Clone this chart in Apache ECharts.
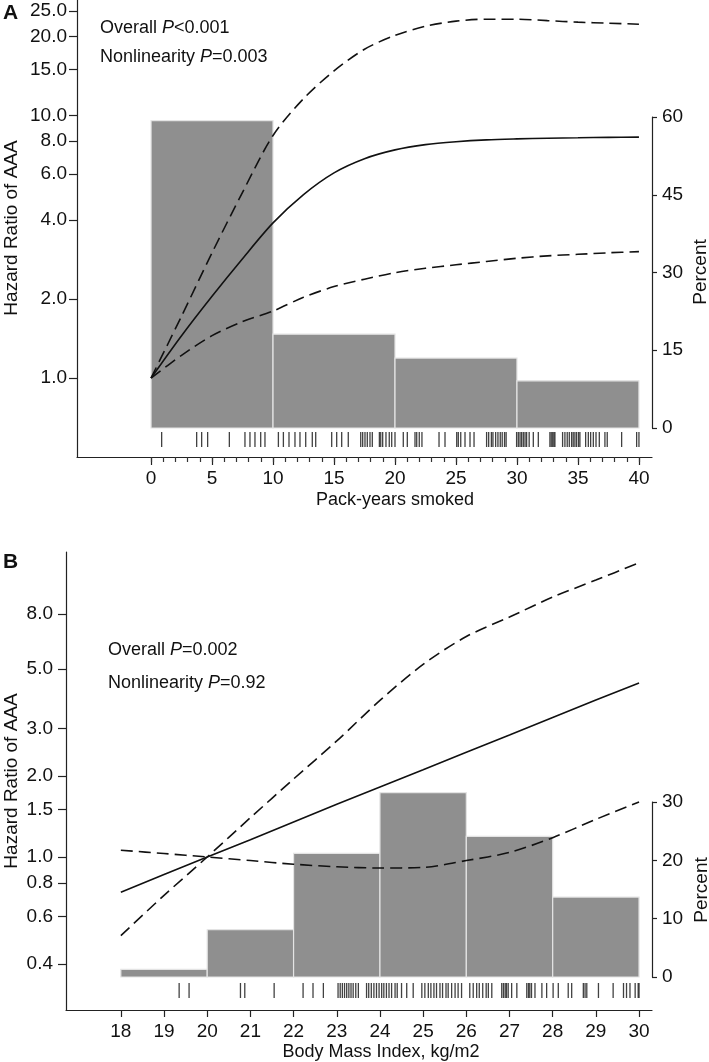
<!DOCTYPE html>
<html><head><meta charset="utf-8">
<script src="https://cdn.jsdelivr.net/npm/echarts@6/dist/echarts.min.js"></script>
<style>html,body{margin:0;padding:0;background:#fff}#c{width:709px;height:1062px}</style>
</head><body><div id="c"></div>
<script>
// ---------- Panel A: pack-years smoked ----------
const packYears      = [0,2.5,5,7.5,10,12.5,15,17.5,20,22.5,25,27.5,30,32.5,35,37.5,40];
const hrPack         = [1.0,1.45,2.05,2.85,3.9,5.0,6.05,6.85,7.4,7.75,7.95,8.08,8.15,8.2,8.23,8.26,8.28];
const hrPackLower    = [1.0,1.22,1.45,1.64,1.80,2.03,2.23,2.38,2.52,2.62,2.70,2.78,2.86,2.92,2.96,3.00,3.03];
const hrPackUpper    = [1.0,1.72,3.0,5.1,8.4,11.6,14.8,17.9,20.2,21.9,22.9,23.3,23.3,23.0,22.7,22.5,22.3];
const histPackStart  = [0,10,20,30];
const histPackPct    = [59.3,18.1,13.5,9.1];
const histPackWidth  = 10;
const rugPack = [0.87,3.74,4.15,4.64,6.42,7.70,8.11,8.52,8.99,9.34,10.44,10.85,11.31,11.80,12.21,12.68,13.22,13.50,14.81,15.22,15.63,16.17,17.19,17.35,17.54,17.73,17.95,18.14,18.72,18.83,18.99,19.26,19.53,19.73,20.00,20.68,21.01,21.64,21.78,21.99,22.21,23.61,24.10,25.06,25.19,25.39,25.74,26.15,26.48,27.51,27.68,27.90,28.03,28.25,28.44,28.63,28.79,28.98,29.11,29.97,30.11,30.25,30.38,30.52,30.66,30.79,31.0,31.34,31.75,32.70,32.81,32.93,33.03,33.11,33.74,33.93,34.12,34.29,34.48,34.61,34.75,34.89,35.05,35.16,35.63,35.85,36.04,36.26,36.48,36.75,37.21,37.40,38.58,39.81,40.0];
const hrTicksPack    = [1,2,4,6,8,10,15,20,25];
const pctTicksPack   = [0,15,30,45,60];
const xTicksPack     = [0,5,10,15,20,25,30,35,40];
const xMinorPack     = [0,1,2,3,4,5,6,7,8,9,10,11,12,13,14,15,16,17,18,19,20,21,22,23,24,25,26,27,28,29,30,31,32,33,34,35,36,37,38,39,40];

// ---------- Panel B: body mass index ----------
const bmi            = [18,19,20,21,22,23,24,25,26,27,28,29,30];
const hrBmi          = [0.74,0.86,1.0,1.16,1.35,1.57,1.82,2.11,2.45,2.84,3.30,3.83,4.43];
const hrBmiLower     = [1.06,1.03,1.0,0.97,0.94,0.92,0.91,0.915,0.97,1.04,1.18,1.38,1.60];
const hrBmiUpper     = [0.51,0.72,1.0,1.40,1.95,2.70,3.82,5.2,6.6,7.8,9.25,10.7,12.4];
const histBmiStart   = [18,20,22,24,26,28];
const histBmiPct     = [1.3,8.1,21.2,31.6,24.1,13.7];
const histBmiWidth   = 2;
const rugBmi = [19.35,19.58,20.77,20.87,21.55,22.22,22.45,22.69,23.03,23.08,23.13,23.18,23.23,23.28,23.33,23.38,23.44,23.50,23.69,23.74,23.80,23.86,23.92,23.98,24.04,24.09,24.15,24.21,24.27,24.35,24.40,24.50,24.62,24.77,24.97,25.04,25.12,25.18,25.25,25.31,25.39,25.45,25.53,25.58,25.66,25.74,25.81,25.89,26.08,26.16,26.24,26.30,26.38,26.46,26.51,26.59,26.82,26.86,26.90,26.93,26.97,27.05,27.17,27.40,27.44,27.47,27.51,27.59,27.75,27.86,28.01,28.13,28.36,28.44,28.71,28.75,28.79,29.06,29.40,29.64,29.71,29.79,29.91,29.98,30.0];
const hrTicksBmi     = [0.4,0.6,0.8,1,1.5,2,3,5,8];
const pctTicksBmi    = [0,10,20,30];
const xTicksBmi      = [18,19,20,21,22,23,24,25,26,27,28,29,30];

const FONT = 'Liberation Sans, Arial, sans-serif';
const INK = '#111';
const AX = '#222';
const lg = v => Math.log10(v);

function renderHist(params, api) {
  const p0 = api.coord([api.value(0), api.value(2)]);
  const p1 = api.coord([api.value(1), 0]);
  return {
    type: 'rect',
    shape: { x: p0[0], y: p0[1], width: p1[0] - p0[0], height: p1[1] - p0[1] },
    style: { fill: '#8f8f8f', stroke: '#e4e4e4', lineWidth: 1.2 }
  };
}
const labelStyle = { color: INK, fontSize: 19, fontFamily: FONT };
const hidden = (gi, min, max) => ({ gridIndex: gi, type: 'value', min, max, show: false,
  axisLine: { onZero: false } });

function logAxis(gi, min, max, ticks, margin) {
  return {
    gridIndex: gi, type: 'value', position: 'left', min: lg(min), max: lg(max),
    axisLine: { show: true, onZero: false, lineStyle: { color: AX, width: 1.2 } },
    axisTick: { show: true, length: 8, lineStyle: { color: AX, width: 1.2 }, customValues: ticks.map(lg) },
    axisLabel: Object.assign({ margin, customValues: ticks.map(lg),
      formatter: v => Math.pow(10, v).toFixed(1) }, labelStyle),
    splitLine: { show: false }
  };
}
function pctAxis(gi, max, ticks) {
  return {
    gridIndex: gi, type: 'value', position: 'right', min: 0, max,
    axisLine: { show: true, onZero: false, lineStyle: { color: AX, width: 1.2 } },
    axisTick: { show: true, length: 5, lineStyle: { color: AX, width: 1.2 }, customValues: ticks },
    axisLabel: Object.assign({ margin: 10, customValues: ticks }, labelStyle),
    splitLine: { show: false }
  };
}
function lineSeries(xi, yi, xs, ys, dashed, smooth) {
  return {
    type: 'line', xAxisIndex: xi, yAxisIndex: yi, z: 5,
    data: xs.map((x, i) => [x, lg(ys[i])]),
    showSymbol: false, smooth: smooth, silent: true,
    lineStyle: { color: INK, width: 1.6, type: dashed ? [12, 6] : 'solid' }
  };
}
function pText(x, y, label, pv) {
  return {
    type: 'text', x, y,
    style: {
      text: '{n|' + label + ' }{i|P}{n|' + pv + '}',
      verticalAlign: 'middle', align: 'left',
      rich: {
        n: { fontSize: 18, fontFamily: FONT, fill: INK },
        i: { fontSize: 18, fontFamily: FONT, fontStyle: 'italic', fill: INK }
      }
    }
  };
}
function rotText(x, y, t) {
  return { type: 'text', x, y, rotation: Math.PI / 2,
    style: { text: t, fontSize: 19, fontFamily: FONT, fill: INK, align: 'center', verticalAlign: 'middle' } };
}
function plainText(x, y, t, bold, size) {
  return { type: 'text', x, y,
    style: { text: t, fontSize: size || 18, fontFamily: FONT, fontWeight: bold ? 'bold' : 'normal',
      fill: INK, align: bold ? 'left' : 'center', verticalAlign: 'middle' } };
}

const xMinA = -6.07, xMaxA = 41.07;
const xMinB = 16.73, xMaxB = 30.30;

const option = {
  animation: false,
  backgroundColor: '#fff',
  grid: [
    { left: 77, top: 0, width: 575, height: 457, outerBoundsMode: 'none' },
    { left: 77, top: 117, width: 575, height: 311, outerBoundsMode: 'none' },
    { left: 77, top: 432, width: 575, height: 15, outerBoundsMode: 'none' },
    { left: 66, top: 552, width: 586, height: 458, outerBoundsMode: 'none' },
    { left: 66, top: 802, width: 586, height: 175, outerBoundsMode: 'none' },
    { left: 66, top: 983, width: 586, height: 15, outerBoundsMode: 'none' },
    { left: 77, top: 0, width: 575, height: 457, outerBoundsMode: 'none' }
  ],
  xAxis: [
    { gridIndex: 0, type: 'value', position: 'bottom', min: xMinA, max: xMaxA,
      axisLine: { show: true, onZero: false, lineStyle: { color: AX, width: 1.2 } },
      axisTick: { show: true, length: 8, lineStyle: { color: AX, width: 1.2 }, customValues: xTicksPack },
      axisLabel: Object.assign({ margin: 12, customValues: xTicksPack }, labelStyle),
      splitLine: { show: false } },
    { gridIndex: 6, type: 'value', position: 'bottom', min: xMinA, max: xMaxA,
      axisLine: { show: false, onZero: false },
      axisTick: { show: true, length: 5, lineStyle: { color: '#333', width: 1.2 }, customValues: xMinorPack },
      axisLabel: { show: false }, splitLine: { show: false } },
    hidden(1, xMinA, xMaxA),
    hidden(2, xMinA, xMaxA),
    { gridIndex: 3, type: 'value', position: 'bottom', min: xMinB, max: xMaxB,
      axisLine: { show: true, onZero: false, lineStyle: { color: AX, width: 1.2 } },
      axisTick: { show: true, length: 7, lineStyle: { color: AX, width: 1.2 }, customValues: xTicksBmi },
      axisLabel: Object.assign({ margin: 12, customValues: xTicksBmi }, labelStyle),
      splitLine: { show: false } },
    hidden(4, xMinB, xMaxB),
    hidden(5, xMinB, xMaxB)
  ],
  yAxis: [
    logAxis(0, 0.5, 27.57, hrTicksPack, 10),
    pctAxis(1, 60, pctTicksPack),
    hidden(2, 0, 1),
    logAxis(3, Math.pow(10, -0.5688), Math.pow(10, 1.1338), hrTicksBmi, 13),
    pctAxis(4, 30, pctTicksBmi),
    hidden(5, 0, 1),
    hidden(6, 0, 1)
  ],
  series: [
    { type: 'custom', xAxisIndex: 2, yAxisIndex: 1, z: 2, silent: true, renderItem: renderHist,
      encode: { x: [0, 1], y: 2 },
      data: histPackStart.map((s, i) => [s, s + histPackWidth, histPackPct[i]]) },
    lineSeries(0, 0, packYears, hrPackUpper, true, 0.3),
    lineSeries(0, 0, packYears, hrPack, false, 0.3),
    lineSeries(0, 0, packYears, hrPackLower, true, 0.3),
    { type: 'scatter', xAxisIndex: 3, yAxisIndex: 2, silent: true, symbol: 'rect', symbolSize: [1.3, 15],
      itemStyle: { color: INK }, data: rugPack.map(x => [x, 0.5]) },

    { type: 'custom', xAxisIndex: 5, yAxisIndex: 4, z: 2, silent: true, renderItem: renderHist,
      encode: { x: [0, 1], y: 2 },
      data: histBmiStart.map((s, i) => [s, s + histBmiWidth, histBmiPct[i]]) },
    lineSeries(4, 3, bmi, hrBmiUpper, true, 0.3),
    lineSeries(4, 3, bmi, hrBmi, false, false),
    lineSeries(4, 3, bmi, hrBmiLower, true, 0.3),
    { type: 'scatter', xAxisIndex: 6, yAxisIndex: 5, silent: true, symbol: 'rect', symbolSize: [1.3, 15],
      itemStyle: { color: INK }, data: rugBmi.map(x => [x, 0.5]) }
  ],
  graphic: [
    plainText(3, 13, 'A', true, 21),
    pText(100, 28, 'Overall', '<0.001'),
    pText(100, 57, 'Nonlinearity', '=0.003'),
    rotText(12, 228, 'Hazard Ratio of AAA'),
    rotText(701, 272, 'Percent'),
    plainText(395, 500, 'Pack-years smoked'),

    plainText(3, 562, 'B', true, 21),
    pText(108, 650, 'Overall', '=0.002'),
    pText(108, 683, 'Nonlinearity', '=0.92'),
    rotText(12, 781, 'Hazard Ratio of AAA'),
    rotText(702, 890, 'Percent'),
    plainText(381, 1052, 'Body Mass Index, kg/m2')
  ]
};
echarts.init(document.getElementById('c'), null, { renderer: 'canvas' }).setOption(option);
</script></body></html>
